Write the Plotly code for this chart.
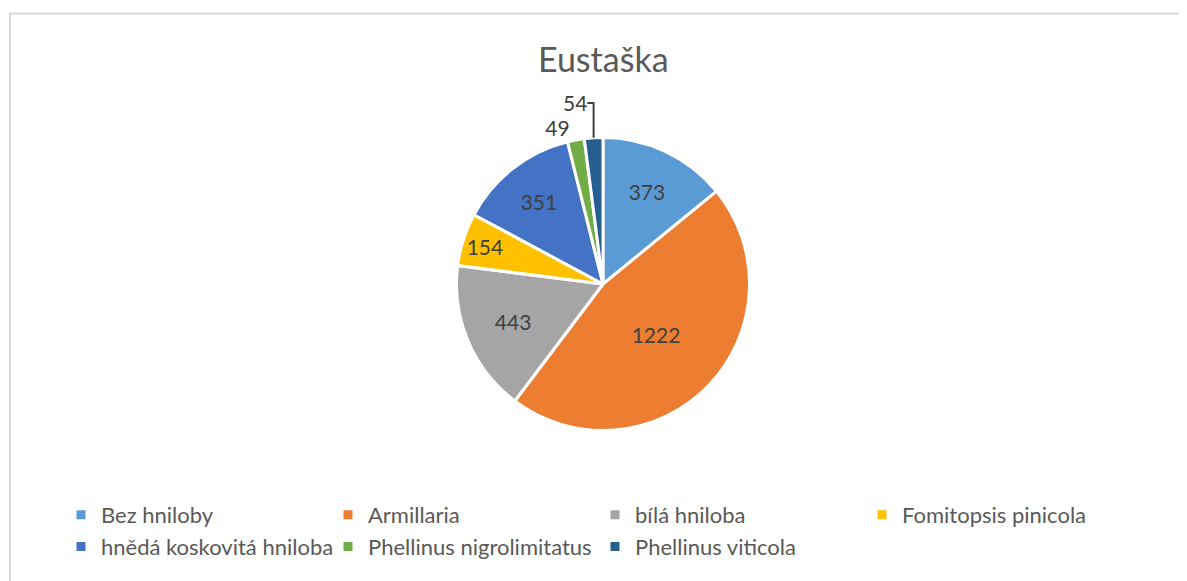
import plotly.graph_objects as go

# The page places the figure 8px in from the window's top-left corner.
OFF = 8
W, H = 1187 - OFF, 581 - OFF

title = "Eustaška"
categories = ["Bez hniloby", "Armillaria", "bílá hniloba", "Fomitopsis pinicola",
              "hnědá koskovitá hniloba", "Phellinus nigrolimitatus", "Phellinus viticola"]
values = [373, 1222, 443, 154, 351, 49, 54]
colors = ["#5B9BD5", "#ED7D31", "#A5A5A5", "#FFC000", "#4472C4", "#70AD47", "#255E91"]
text_positions = ["inside"] * 5 + ["outside"] * 2

FONT = "Lato, Open Sans, sans-serif"


def px(x):
    return (x - OFF) / W


def py(y):
    return 1 - (y - OFF) / H


# pie geometry in window pixels
cx, cy, r = 603, 284, 146.5

fig = go.Figure(go.Pie(
    labels=categories,
    values=values,
    sort=False,
    direction="clockwise",
    rotation=0,
    marker=dict(colors=colors, line=dict(color="white", width=3)),
    textinfo="value",
    textposition=text_positions,
    insidetextorientation="horizontal",
    textfont=dict(family=FONT, size=21, color="#404040"),
    outsidetextfont=dict(family=FONT, size=21, color="#404040"),
    insidetextfont=dict(family=FONT, size=21, color="#404040"),
    domain=dict(x=[px(cx - r), px(cx + r)], y=[py(cy + r), py(cy - r)]),
    hoverinfo="label+value+percent",
))

fig.update_layout(
    width=W, height=H,
    margin=dict(l=0, r=0, t=0, b=0),
    paper_bgcolor="white",
    plot_bgcolor="white",
    font=dict(family=FONT, color="#595959"),
    showlegend=True,
    legend=dict(
        orientation="h",
        x=px(61), xanchor="left",
        y=py(494), yanchor="top",
        entrywidth=222, entrywidthmode="pixels",
        font=dict(family=FONT, size=22, color="#595959"),
        traceorder="normal",
        bgcolor="rgba(0,0,0,0)",
    ),
    annotations=[dict(
        text=title, x=px(603), y=py(58), xref="paper", yref="paper",
        xanchor="center", yanchor="middle", showarrow=False,
        font=dict(family=FONT, size=34, color="#595959"),
    )],
    shapes=[dict(
        type="rect", xref="paper", yref="paper",
        x0=px(10), x1=px(1186), y0=-0.05, y1=py(13.5),
        line=dict(color="#D9D9D9", width=2), fillcolor="rgba(0,0,0,0)", layer="below",
    )],
)

fig.write_html("out.html")
